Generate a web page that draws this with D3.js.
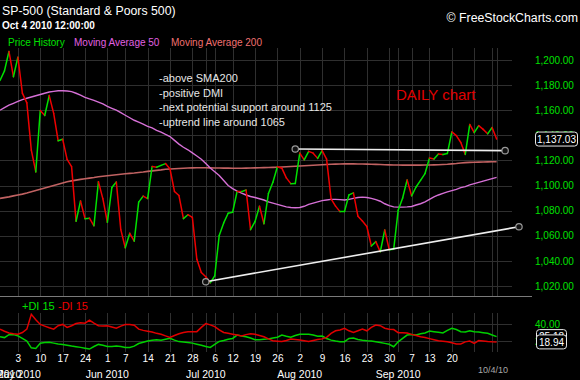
<!DOCTYPE html>
<html>
<head>
<meta charset="utf-8">
<script src="https://cdn.jsdelivr.net/npm/d3@7"></script>
<style>
  body { margin: 0; background: #000; }
  svg { display: block; font-family: "Liberation Sans", Arial, sans-serif; }
</style>
</head>
<body>
<svg class="chart"></svg>
<script>
// trading days, one line per week
const dates = [
  "4/27","4/28","4/29","4/30",
  "5/3","5/4","5/5","5/6","5/7",
  "5/10","5/11","5/12","5/13","5/14",
  "5/17","5/18","5/19","5/20","5/21",
  "5/24","5/25","5/26","5/27","5/28",
  "6/1","6/2","6/3","6/4",
  "6/7","6/8","6/9","6/10","6/11",
  "6/14","6/15","6/16","6/17","6/18",
  "6/21","6/22","6/23","6/24","6/25",
  "6/28","6/29","6/30","7/1","7/2",
  "7/6","7/7","7/8","7/9",
  "7/12","7/13","7/14","7/15","7/16",
  "7/19","7/20","7/21","7/22","7/23",
  "7/26","7/27","7/28","7/29","7/30",
  "8/2","8/3","8/4","8/5","8/6",
  "8/9","8/10","8/11","8/12","8/13",
  "8/16","8/17","8/18","8/19","8/20",
  "8/23","8/24","8/25","8/26","8/27",
  "8/30","8/31","9/1","9/2","9/3",
  "9/7","9/8","9/9","9/10",
  "9/13","9/14","9/15","9/16","9/17",
  "9/20","9/21","9/22","9/23","9/24",
  "9/27","9/28","9/29","9/30","10/1",
  "10/4"
];

const closes = [
  1183.71, 1191.36, 1206.78, 1186.69,
  1202.26, 1173.60, 1165.87, 1128.15, 1110.88,
  1159.73, 1155.79, 1171.67, 1157.44, 1135.68,
  1136.94, 1120.80, 1115.05, 1071.59, 1087.69,
  1073.65, 1074.03, 1067.95, 1103.06, 1089.41,
  1070.71, 1098.38, 1102.83, 1064.88,
  1050.47, 1062.00, 1055.69, 1086.84, 1091.60,
  1089.63, 1115.23, 1114.61, 1116.04, 1117.51,
  1113.20, 1095.31, 1092.04, 1073.69, 1076.76,
  1074.57, 1041.24, 1030.71, 1027.37, 1022.58,
  1028.06, 1060.27, 1070.25, 1077.96,
  1078.75, 1095.34, 1095.17, 1096.48, 1064.88,
  1071.25, 1083.48, 1069.59, 1093.67, 1102.66,
  1115.01, 1113.84, 1106.13, 1101.53, 1101.60,
  1125.86, 1120.46, 1127.24, 1125.81, 1121.64,
  1127.79, 1121.06, 1089.47, 1083.61, 1079.25,
  1079.38, 1092.54, 1094.16, 1075.63, 1071.69,
  1067.36, 1051.87, 1055.33, 1047.22, 1064.59,
  1048.92, 1049.33, 1080.29, 1090.10, 1104.51,
  1091.84, 1098.87, 1104.18, 1109.55,
  1121.90, 1121.10, 1125.07, 1124.66, 1125.59,
  1142.71, 1139.78, 1134.28, 1124.83, 1148.67,
  1142.16, 1147.70, 1144.73, 1141.20, 1146.24,
  1137.03
];

const ma50 = [
  1160, 1162, 1164, 1165.5,
  1167, 1168.5, 1169.5, 1170.5, 1171.5,
  1172.5, 1173.5, 1174.5, 1175, 1175.5,
  1175.5, 1175.3, 1174.8, 1173.5, 1172,
  1170.3, 1169, 1167.8, 1166.5, 1165,
  1163, 1161.5, 1160, 1158,
  1156, 1154, 1152, 1150.5, 1149,
  1147.2, 1146, 1144, 1142.5, 1140.7,
  1139, 1136, 1133, 1130.5, 1128.5,
  1126, 1123.5, 1121, 1117.5, 1114,
  1111, 1108, 1104, 1100,
  1097.5, 1095.5, 1094, 1092.5, 1091.3,
  1090.5, 1089.5, 1088.5, 1087, 1086,
  1085, 1084, 1083, 1082.5, 1082.3,
  1082.5, 1083.5, 1085, 1086, 1087,
  1088, 1088.5, 1089, 1089, 1088.8,
  1088.5, 1089, 1089.8, 1090.5, 1090.8,
  1090.5, 1089.8, 1088.8, 1087.5, 1085.5,
  1084, 1083, 1082.8, 1082.8, 1083,
  1083.3, 1084.5, 1085.5, 1087,
  1089, 1091, 1092.5, 1093.8, 1095,
  1096, 1097, 1098.3, 1099.2, 1100.5,
  1101.5, 1102.5, 1103.5, 1104.5, 1105.5,
  1106.5
];

const ma200 = [
  1089.8, 1090.4, 1091, 1091.8,
  1092.5, 1093.2, 1094, 1095, 1096,
  1097, 1098, 1099, 1100, 1101,
  1102, 1103, 1103.7, 1104.3, 1104.9,
  1105.4, 1105.9, 1106.4, 1107, 1107.4,
  1107.8, 1108.2, 1108.6, 1109,
  1109.4, 1109.7, 1110, 1110.4, 1110.8,
  1111.3, 1111.7, 1112.1, 1112.5, 1113,
  1113.2, 1113.4, 1113.6, 1113.8, 1114,
  1114.1, 1114.2, 1114.2, 1114.2, 1114.1,
  1114, 1114, 1113.9, 1113.9,
  1113.8, 1113.8, 1113.8, 1113.9, 1114,
  1114.1, 1114.2, 1114.3, 1114.4, 1114.5,
  1114.6, 1114.8, 1115, 1115.2, 1115.4,
  1115.6, 1115.8, 1116, 1116.2, 1116.4,
  1116.6, 1116.8, 1117, 1117.1, 1117.2,
  1117.3, 1117.3, 1117.3, 1117.2, 1117.2,
  1117.1, 1117, 1116.9, 1116.8, 1116.6,
  1116.5, 1116.4, 1116.4, 1116.3, 1116.3,
  1116.3, 1116.3, 1116.3, 1116.4,
  1116.4, 1116.5, 1116.6, 1116.8, 1117,
  1117.3, 1117.6, 1118, 1118.3, 1118.5,
  1118.6, 1118.7, 1118.8, 1118.9, 1119,
  1119
];

const plusDI = [
  25, 24, 27.5, 27.5,
  26, 23, 20, 12, 11.3,
  17.3, 18.3, 18.4, 17.5, 16.5,
  16, 15, 14, 13.3, 12.5,
  11.5, 10.5, 13.5, 16, 15,
  13.5, 13.5, 14, 13.5,
  12.5, 12.5, 14, 17, 18.5,
  20, 21, 21.5, 21, 22,
  23.1, 21, 19.3, 18.8, 18.2,
  17.5, 16.3, 15, 13.5, 12.5,
  16, 19.5, 20.5, 22,
  23, 27, 26, 25, 23.5,
  21.5, 21.5, 22, 22.5, 23.5,
  24.5, 27, 25.5, 24.5, 26.5,
  28, 28, 28, 27, 25.5,
  25.8, 23, 21, 20, 19.2,
  19.2, 23, 23.5, 21.8, 21,
  20.4, 20, 19.2, 18.3, 17.2,
  16.2, 13.3, 19, 23, 27,
  27.5, 27, 28.5, 29.5,
  31.8, 31, 30.3, 29.5, 32.5,
  35, 33.5, 31, 30.5, 32,
  31, 30.5, 29.8, 29, 27,
  25.18
];

const minusDI = [
  33.8, 31.5, 29.5, 28.5,
  28, 30, 34, 51.5, 45,
  39.5, 37.5, 35.5, 34, 38,
  39.5, 36, 38, 40.5, 41.5,
  41, 44.5, 41, 38, 37.6,
  38, 36.5, 35, 37.5,
  39.5, 39.5, 38.5, 34, 32.5,
  31.5, 30.5, 29, 28, 26,
  24.3, 26.5, 28.5, 30, 31,
  31, 31, 36, 40.5, 39,
  37, 33, 30, 29,
  28, 27, 26, 27.5, 28.5,
  28, 26.5, 25, 22.5, 20.4,
  19.8, 19.3, 20.5, 22.4, 21.8,
  21.2, 20.2, 19.3, 20.5, 21.8,
  22.5, 24.3, 29, 32, 33,
  35, 32, 30, 32, 34,
  32, 36, 38.8, 38, 35,
  33.8, 33.5, 29.8, 29.8, 29.5,
  27.8, 26.5, 25, 24,
  22.8, 21.5, 20.3, 19.8, 19.2,
  18, 16.6, 16.5, 19, 20,
  17.3, 20.5, 20, 19.4, 19,
  18.94
];

const priceTicks = [1020, 1040, 1060, 1080, 1100, 1120, 1140, 1160, 1180, 1200];
const diTicks = [20, 40];
const gridDays = ["5/3","5/10","5/17","5/24","6/1","6/7","6/14","6/21","6/28","7/1","7/6",
  "7/12","7/19","7/26","8/2","8/9","8/16","8/23","8/30","9/1","9/7","9/13","9/20","9/27","10/1","10/4"];
const dayLabels = [["5/3","3"],["5/10","10"],["5/17","17"],["5/24","24"],["6/1","1"],["6/7","7"],
  ["6/14","14"],["6/21","21"],["6/28","28"],["7/6","6"],["7/12","12"],["7/19","19"],["7/26","26"],
  ["8/2","2"],["8/9","9"],["8/16","16"],["8/23","23"],["8/30","30"],["9/7","7"],["9/13","13"],["9/20","20"]];
const monthLabels = [["4/27","Apr 2010"],["5/3","May 2010"],["6/1","Jun 2010"],["7/1","Jul 2010"],
  ["8/2","Aug 2010"],["9/1","Sep 2010"]];
const notes = ["-above SMA200", "-positive DMI", "-next potential support around 1125", "-uptrend line around 1065"];
// drawn lines: [trading day index, price]
const supportLine = [[66, 1129.1], [112.9, 1127.8]];
const trendLine = [[46, 1023.4], [116, 1067.2]];

const width = 580, height = 380;
const green = "#00e000", red = "#ee0000";

const svg = d3.select("svg.chart")
  .attr("width", width)
  .attr("height", height);

svg.append("rect").attr("width", width).attr("height", height).attr("fill", "#000");

const x = d3.scaleLinear().domain([0, dates.length - 1]).range([0, 496.6]);
const y = d3.scaleLinear().domain([1020, 1200]).range([286, 60]);
const yDI = d3.scaleLinear().domain([20, 40]).range([341, 324]);
const idx = d => dates.indexOf(d);

// grids
const grid = svg.append("g").attr("stroke", "#2f2f2f").attr("stroke-width", 1);
grid.selectAll(".vm").data(gridDays).join("line")
  .attr("x1", d => Math.round(x(idx(d))) + 0.5).attr("x2", d => Math.round(x(idx(d))) + 0.5)
  .attr("y1", 48).attr("y2", 296);
grid.selectAll(".vd").data(gridDays).join("line")
  .attr("x1", d => Math.round(x(idx(d))) + 0.5).attr("x2", d => Math.round(x(idx(d))) + 0.5)
  .attr("y1", 313).attr("y2", 352);
grid.selectAll(".hm").data(priceTicks).join("line")
  .attr("x1", 0).attr("x2", 512)
  .attr("y1", d => Math.round(y(d)) + 0.5).attr("y2", d => Math.round(y(d)) + 0.5);
grid.selectAll(".hd").data(diTicks).join("line")
  .attr("x1", 0).attr("x2", 512)
  .attr("y1", d => Math.round(yDI(d)) + 0.5).attr("y2", d => Math.round(yDI(d)) + 0.5);

svg.append("line")
  .attr("x1", 0).attr("x2", 532).attr("y1", 296.5).attr("y2", 296.5)
  .attr("stroke", "#7a7a7a");

// moving averages
const line = d3.line().x((d, i) => x(i)).y(d => y(d));
svg.append("path").datum(ma200)
  .attr("fill", "none").attr("stroke", "#c06262").attr("stroke-width", 1.6)
  .attr("d", line);
svg.append("path").datum(ma50)
  .attr("fill", "none").attr("stroke", "#d670d6").attr("stroke-width", 1.4)
  .attr("d", line);

// price history, green up / red down
svg.append("g").selectAll("line")
  .data(d3.pairs(closes.map((v, i) => [i, v])))
  .join("line")
  .attr("x1", d => x(d[0][0])).attr("y1", d => y(d[0][1]))
  .attr("x2", d => x(d[1][0])).attr("y2", d => y(d[1][1]))
  .attr("stroke", d => d[1][1] >= d[0][1] ? green : red)
  .attr("stroke-width", 1.5)
  .attr("stroke-linecap", "round");

// drawn trend lines
[supportLine, trendLine].forEach(pts => {
  svg.append("line")
    .attr("x1", x(pts[0][0])).attr("y1", y(pts[0][1]))
    .attr("x2", x(pts[1][0])).attr("y2", y(pts[1][1]))
    .attr("stroke", "#eeeeee").attr("stroke-width", 1.6);
  svg.selectAll(null).data(pts).join("circle")
    .attr("cx", d => x(d[0])).attr("cy", d => y(d[1])).attr("r", 3.2)
    .attr("fill", "#111").attr("stroke", "#9a9a9a").attr("stroke-width", 1.2);
});

// DMI lines
const diLine = d3.line().x((d, i) => x(i)).y(d => yDI(d));
svg.append("path").datum(plusDI)
  .attr("fill", "none").attr("stroke", "#00d000").attr("stroke-width", 1.5)
  .attr("d", diLine);
svg.append("path").datum(minusDI)
  .attr("fill", "none").attr("stroke", "#e00000").attr("stroke-width", 1.5)
  .attr("d", diLine);

// right axes
const yAxis = svg.append("g")
  .attr("transform", "translate(535,0)")
  .call(d3.axisRight(y).tickValues(priceTicks).tickFormat(d3.format(",.2f")).tickSize(0).tickPadding(0));
yAxis.select(".domain").remove();
yAxis.selectAll("text").attr("fill", green).attr("font-size", 10)
  .attr("font-family", "Liberation Sans, Arial, sans-serif");

const diAxis = svg.append("g")
  .attr("transform", "translate(535,0)")
  .call(d3.axisRight(yDI).tickValues(diTicks).tickFormat(d3.format(".2f")).tickSize(0).tickPadding(0));
diAxis.select(".domain").remove();
diAxis.selectAll("text").attr("fill", green).attr("font-size", 10)
  .attr("font-family", "Liberation Sans, Arial, sans-serif");

// last value boxes
function valueBox(cy, label, x0, w) {
  svg.append("rect")
    .attr("x", x0).attr("y", cy - 7).attr("width", w).attr("height", 14)
    .attr("rx", 3).attr("fill", "#000").attr("stroke", "#e8e8e8").attr("stroke-width", 1);
  svg.append("text")
    .attr("x", x0 + w / 2).attr("y", cy + 3.6)
    .attr("text-anchor", "middle").attr("fill", "#fff").attr("font-size", 10)
    .text(label);
}
valueBox(y(closes[closes.length - 1]), d3.format(",.2f")(closes[closes.length - 1]), 535.5, 42);
valueBox(yDI(plusDI[plusDI.length - 1]), d3.format(".2f")(plusDI[plusDI.length - 1]), 536.5, 30);
valueBox(yDI(minusDI[minusDI.length - 1]), d3.format(".2f")(minusDI[minusDI.length - 1]), 536.5, 30);

// date axis
const xAxis = svg.append("g")
  .attr("transform", "translate(0,355)")
  .call(d3.axisBottom(x).tickValues(dayLabels.map(d => idx(d[0])))
    .tickFormat((d, i) => dayLabels[i][1]).tickSize(0).tickPadding(0));
xAxis.select(".domain").remove();
xAxis.selectAll("text").attr("fill", "#fff").attr("font-size", 10)
  .attr("font-family", "Liberation Sans, Arial, sans-serif");

svg.append("g").selectAll("text").data(monthLabels).join("text")
  .attr("x", d => x(idx(d[0]))).attr("y", 378)
  .attr("text-anchor", "middle").attr("fill", "#fff").attr("font-size", 10.5)
  .text(d => d[1]);

svg.append("text").attr("x", 478).attr("y", 373)
  .attr("fill", "#a8a8a8").attr("font-size", 9).text(dates[dates.length - 1] + "/10");

// titles and legends
svg.append("text").attr("x", 2).attr("y", 14.5)
  .attr("fill", "#fff").attr("font-size", 12.3).text("SP-500 (Standard & Poors 500)");
svg.append("text").attr("x", 2).attr("y", 29)
  .attr("fill", "#fff").attr("font-size", 10).attr("font-weight", "bold").text("Oct 4 2010 12:00:00");
svg.append("text").attr("x", 578).attr("y", 21.5).attr("text-anchor", "end")
  .attr("fill", "#fff").attr("font-size", 12.3).text("\u00A9 FreeStockCharts.com");

const legend = [["Price History", green, 8], ["Moving Average 50", "#e060e0", 74], ["Moving Average 200", "#f07070", 171]];
svg.append("g").selectAll("text").data(legend).join("text")
  .attr("x", d => d[2]).attr("y", 45.5)
  .attr("fill", d => d[1]).attr("font-size", 10).text(d => d[0]);

const diLegend = [["+DI 15", green, 22], ["-DI 15", red, 58]];
svg.append("g").selectAll("text").data(diLegend).join("text")
  .attr("x", d => d[2]).attr("y", 309.5)
  .attr("fill", d => d[1]).attr("font-size", 11).text(d => d[0]);

// notes
svg.append("g").selectAll("text").data(notes).join("text")
  .attr("x", 159).attr("y", (d, i) => 82 + i * 14.6)
  .attr("fill", "#e6e6e6").attr("font-size", 11).text(d => d);

svg.append("text").attr("x", 396).attr("y", 99.5)
  .attr("fill", "#e00000").attr("font-size", 15).text("DAILY chart");
</script>
</body>
</html>
